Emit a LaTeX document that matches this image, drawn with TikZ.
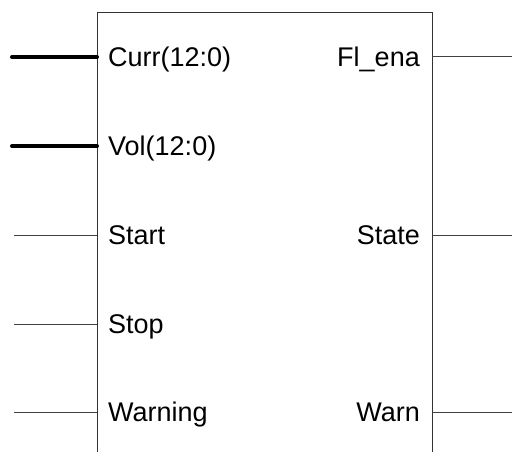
\documentclass[tikz,border=0pt]{standalone}
\usepackage{fontspec}
\setmainfont{Liberation Sans}
\begin{document}
\begin{tikzpicture}[x=1pt,y=-1pt,
  pinlabel/.style={inner sep=0pt,font=\fontsize{27}{30}\selectfont},
  thinwire/.style={draw=black!75,line width=1pt},
  buswire/.style={draw=black,line width=4pt,line cap=round},
  boxline/.style={draw=black!80,line width=1pt}]
\useasboundingbox (0,0) rectangle (512,452);
\begin{scope}
\clip (0,0) rectangle (512,452);
\node[boxline,rectangle,minimum width=335pt,minimum height=480pt,anchor=north west,inner sep=0pt] (box) at (97,12) {};
\end{scope}
% pin points on box edges
\coordinate (pCurr) at (97,57);
\coordinate (pVol) at (97,146);
\coordinate (pStart) at (97,235);
\coordinate (pStop) at (97,324);
\coordinate (pWarning) at (97,412);
\coordinate (pFl) at (432,57);
\coordinate (pState) at (432,235);
\coordinate (pWarn) at (432,412);
% free ends
\coordinate (eCurr) at (12,57);
\coordinate (eVol) at (12,146);
\coordinate (eStart) at (14,235);
\coordinate (eStop) at (14,324);
\coordinate (eWarning) at (14,412);
\coordinate (eFl) at (512,57);
\coordinate (eState) at (512,235);
\coordinate (eWarn) at (512,412);
% wires
\draw[buswire] (eCurr) -- (pCurr);
\draw[buswire] (eVol) -- (pVol);
\draw[thinwire] (eStart) -- (pStart);
\draw[thinwire] (eStop) -- (pStop);
\draw[thinwire] (eWarning) -- (pWarning);
\draw[thinwire] (pFl) -- (eFl);
\draw[thinwire] (pState) -- (eState);
\draw[thinwire] (pWarn) -- (eWarn);
% labels
\node[pinlabel,anchor=base west] (lCurr) at (108,66.7) {Curr(12:0)};
\node[pinlabel,anchor=base west] (lVol) at (108,155.7) {Vol(12:0)};
\node[pinlabel,anchor=base west] (lStart) at (108,244.7) {Start};
\node[pinlabel,anchor=base west] (lStop) at (108,333.7) {Stop};
\node[pinlabel,anchor=base west] (lWarning) at (108,421.7) {Warning};
\node[pinlabel,anchor=base east] (lFl) at (420,66.7) {Fl\_ena};
\node[pinlabel,anchor=base east] (lState) at (420,244.7) {State};
\node[pinlabel,anchor=base east] (lWarn) at (420,421.7) {Warn};
\end{tikzpicture}
\end{document}
